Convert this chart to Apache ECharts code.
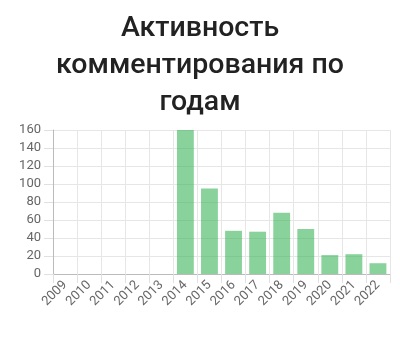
<!DOCTYPE html>
<html><head><meta charset="utf-8">
<script src="https://cdn.jsdelivr.net/npm/echarts@6/dist/echarts.min.js"></script>
<style>html,body{margin:0;padding:0;background:#fff}#c{width:400px;height:337px}</style>
</head><body><div id="c"></div>
<script>
const titleText = "Активность\nкомментирования по\nгодам";
const years = ["2009","2010","2011","2012","2013","2014","2015","2016","2017","2018","2019","2020","2021","2022"];
const comments = [0,0,0,0,0,160,95,48,47,68,50,21,22,12];
const yTicks = {min:0, max:160, interval:20};

const chart = echarts.init(document.getElementById('c'), null, {renderer:'canvas'});
chart.setOption({
  animation:false,
  title:{
    text:titleText, left:'center', top:5,
    textStyle:{fontFamily:'Roboto', fontSize:28.5, fontWeight:500, color:'#222', lineHeight:37}
  },
  grid:{left:53, right:10, top:130, bottom:63, containLabel:false},
  xAxis:{
    type:'category', data:years, boundaryGap:true,
    axisLine:{show:true, lineStyle:{color:'#bbb', width:1}},
    axisTick:{show:true, length:9, lineStyle:{color:'#e0e0e0'}},
    splitLine:{show:true, lineStyle:{color:'#e6e6e6'}},
    axisLabel:{rotate:45, color:'#666', fontFamily:'Roboto', fontSize:13, margin:9, interval:0}
  },
  yAxis:{
    type:'value', min:yTicks.min, max:yTicks.max, interval:yTicks.interval,
    axisLine:{show:true, lineStyle:{color:'#bbb', width:1}},
    axisTick:{show:true, length:9, lineStyle:{color:'#e0e0e0'}},
    splitLine:{show:true, lineStyle:{color:'#e6e6e6'}},
    axisLabel:{color:'#666', fontFamily:'Roboto', fontSize:13, margin:12}
  },
  series:[{
    type:'bar', data:comments, barWidth:'70%',
    itemStyle:{color:'rgba(60,180,90,0.6)', borderWidth:0}
  }]
});
</script></body></html>
